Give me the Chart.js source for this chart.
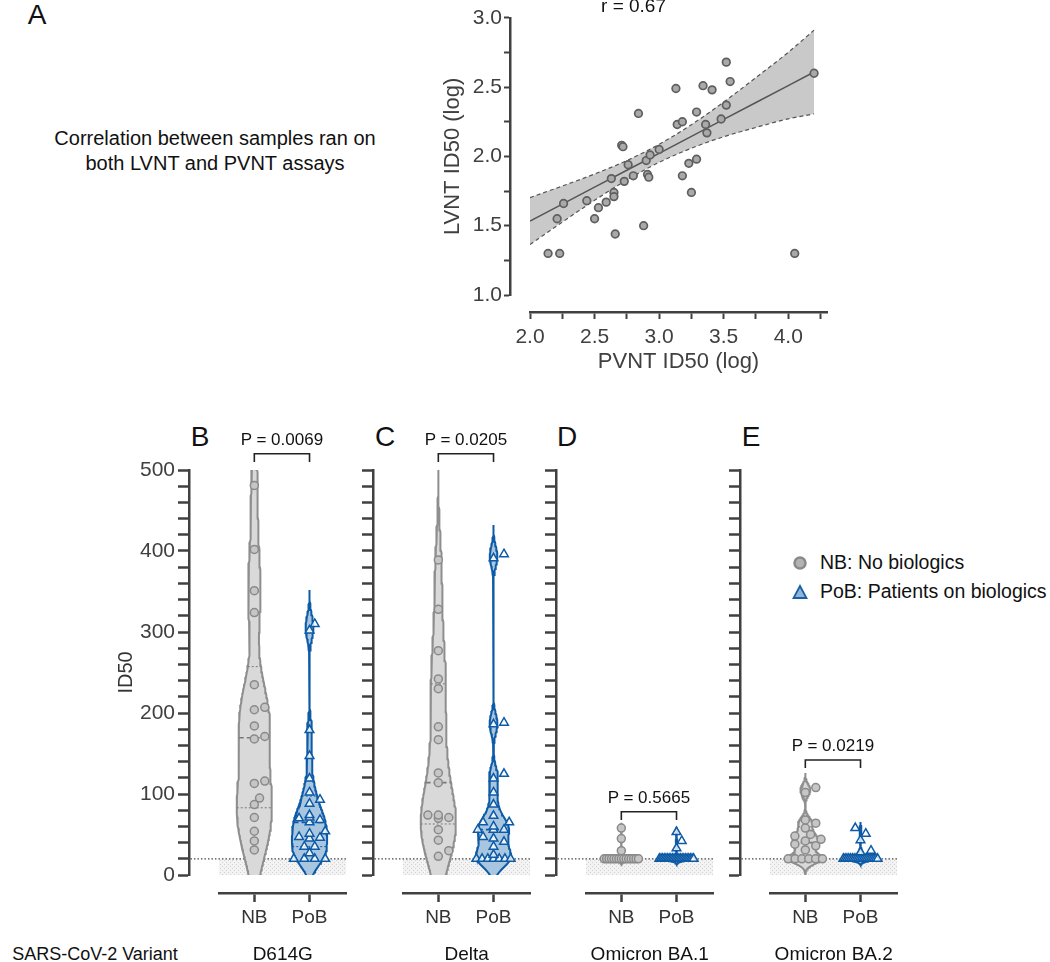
<!DOCTYPE html>
<html>
<head>
<meta charset="utf-8">
<title>LVNT / PVNT neutralization</title>
<script src="https://cdn.jsdelivr.net/npm/chart.js@4.4.1/dist/chart.umd.min.js"></script>
<style>
  html, body { margin: 0; padding: 0; background: #fff; }
  body { position: relative; width: 1050px; height: 962px; overflow: hidden;
         font-family: 'Liberation Sans', Arial, sans-serif; color: #111; }
  canvas { position: absolute; }
  .lbl { position: absolute; white-space: nowrap; line-height: 1; transform: translate(-50%, -50%); }
  .legend { position: absolute; left: 792px; top: 548px; font-size: 19.5px; color: #111; white-space: nowrap; }
  .legend div { display: flex; align-items: center; height: 29px; }
  .legend svg { margin-right: 12px; flex: none; }
</style>
</head>
<body>
<div class="lbl" style="left:37px;top:15px;font-size:28px">A</div>
<div class="lbl" style="left:215px;top:138px;font-size:20px">Correlation between samples ran on</div>
<div class="lbl" style="left:215px;top:163px;font-size:20px">both LVNT and PVNT assays</div>
<div class="lbl" style="left:200px;top:437px;font-size:28px">B</div>
<div class="lbl" style="left:385px;top:437px;font-size:28px">C</div>
<div class="lbl" style="left:567px;top:437px;font-size:28px">D</div>
<div class="lbl" style="left:751px;top:437px;font-size:28px">E</div>
<div class="lbl" style="left:95px;top:954px;font-size:18px">SARS-CoV-2 Variant</div>
<div class="legend">
  <div><svg width="16" height="16"><circle cx="8" cy="8" r="5.5" fill="#b3b3b3" stroke="#8a8a8a" stroke-width="2.5"/></svg>NB: No biologics</div>
  <div><svg width="16" height="16"><polygon points="8,2 14.5,14 1.5,14" fill="#8fb4d9" stroke="#1a5ea5" stroke-width="1.8"/></svg>PoB: Patients on biologics</div>
</div>

<script>
// ---- Panel A: log10 ID50 of samples run on both assays ----
const pvntLog = [2.14, 2.23, 2.21, 2.26, 2.44, 2.50, 2.53, 2.59, 2.63, 2.65, 2.65, 2.66, 2.71, 2.72,
                 2.73, 2.76, 2.80, 2.84, 2.88, 2.90, 2.91, 2.92, 2.93, 3.00, 3.13, 3.14, 3.18, 3.18,
                 3.23, 3.25, 3.29, 3.29, 3.34, 3.36, 3.37, 3.41, 3.48, 3.52, 3.52, 3.55, 4.05, 4.20];
const lvntLog = [1.30, 1.30, 1.55, 1.66, 1.68, 1.55, 1.63, 1.67, 1.84, 1.74, 1.71, 1.44, 2.08, 2.07,
                 1.82, 1.94, 1.86, 2.31, 1.50, 1.97, 1.87, 1.85, 2.01, 2.05, 2.49, 2.23, 2.25, 1.86,
                 1.95, 1.74, 2.32, 1.98, 2.51, 2.23, 2.17, 2.48, 2.27, 2.37, 2.68, 2.54, 1.30, 2.60];
// fitted line and 95% band
const fitX     = [2.0, 2.25, 2.5, 2.75, 3.0, 3.25, 3.5, 3.75, 4.0, 4.2];
const fitY     = [1.534, 1.656, 1.778, 1.900, 2.022, 2.144, 2.267, 2.389, 2.511, 2.609];
const fitUpper = [1.703, 1.786, 1.873, 1.970, 2.087, 2.229, 2.392, 2.569, 2.751, 2.911];
const fitLower = [1.365, 1.526, 1.683, 1.830, 1.957, 2.059, 2.142, 2.209, 2.271, 2.307];
const correlationR = '0.67';

// ---- Panels B-E: ID50 per patient ----
const variants = ['D614G', 'Delta', 'Omicron BA.1', 'Omicron BA.2'];
const groupLabels = ['NB', 'PoB'];
const pValues = ['0.0069', '0.0205', '0.5665', '0.0219'];
const bracketLevel = [520, 520, 78, 142];
const detectionLimit = 20;

const nbD614G  = [481, 402, 351, 324, 235, 207, 204, 184, 171, 168, 116, 113, 95, 87, 71, 54, 42, 31];
const pobD614G = [310, 302, 179, 147, 119, 102, 93, 88, 74, 71, 70, 68, 65, 54, 51, 47, 46, 45,
                  35, 35, 27, 20, 20, 20, 20];
const nbDelta  = [389, 328, 277, 242, 230, 183, 167, 126, 114, 74, 74, 71, 70, 56, 43, 30, 23];
const pobDelta = [396, 391, 188, 186, 125, 119, 102, 87, 73, 65, 65, 60, 56, 56, 56, 47, 45, 41,
                  35, 25, 20, 20, 20, 20, 20, 20, 20];
const nbBA1    = [58, 45, 30, 20, 20, 20, 20, 20, 20, 20, 20, 20, 20, 20, 20, 20, 20, 20];
const pobBA1   = [53, 42, 33, 20, 20, 20, 20, 20, 20, 20, 20, 20, 20, 20, 20, 20, 20, 20, 20, 20,
                  20, 20, 20, 20, 20];
const nbBA2    = [108, 102, 68, 64, 58, 50, 48, 44, 42, 38, 36, 31, 20, 20, 20, 20, 20, 20];
const pobBA2   = [58, 51, 43, 30, 28, 20, 20, 20, 20, 20, 20, 20, 20, 20, 20, 20, 20, 20, 20, 20,
                  20, 20, 20, 20, 20];

const nbSeries  = [nbD614G, nbDelta, nbBA1, nbBA2];
const pobSeries = [pobD614G, pobDelta, pobBA1, pobBA2];
// kernel width for the violins (ID50 units), [NB, PoB]
const kdeBandwidth = [[40, 14], [40, 12], [2.2, 2.2], [6, 2.5]];

// ---- layout ----
Chart.defaults.font.family = "'Liberation Sans', Arial, sans-serif";
Chart.defaults.color = '#404040';

const AXIS_X = [189, 373, 556, 740];   // page x of each panel's y axis
const PANEL_TOP = 440;
const PX_Y = 405 / 500;                // px per ID50 unit
const PX_X = 58;                       // px between NB and PoB
const X_MIN = 0.36, X_MAX = 2.67;
const HALF_W = 18.5 / PX_X;            // widest half-violin
const AXIS_COLOR = '#404040';

const NB_STYLE  = {fill: '#d9d9d9', line: '#8e8e8e', dash: '#7a7a7a', point: 'circle',
                   pFill: '#c6c6c6', pLine: '#8a8a8a', r: 4};
const POB_STYLE = {fill: '#a9c6e0', line: '#0d5aa6', dash: '#0d5aa6', point: 'triangle',
                   pFill: 'rgba(255,255,255,0.8)', pLine: '#0d5aa6', r: 5};

function addCanvas(left, top, w, h) {
  const c = document.createElement('canvas');
  c.width = w; c.height = h;
  c.style.left = left + 'px'; c.style.top = top + 'px';
  document.body.appendChild(c);
  return c;
}

function addLabel(text, x, y, size) {
  const d = document.createElement('div');
  d.className = 'lbl';
  d.textContent = text;
  d.style.left = x + 'px'; d.style.top = y + 'px'; d.style.fontSize = size + 'px';
  document.body.appendChild(d);
}

// invisible axis used only to leave a gap between the axis lines and the plot
function spacer(position, size) {
  return {
    type: 'linear', position, weight: 0, display: true,
    ticks: {display: false}, grid: {display: false}, border: {display: false},
    afterFit: s => { if (position === 'left') s.width = size; else s.height = size; }
  };
}

function quantile(sorted, p) {
  const pos = Math.min(Math.max(p * (sorted.length + 1), 1), sorted.length) - 1;
  const lo = Math.floor(pos), f = pos - lo;
  return lo + 1 < sorted.length ? sorted[lo] + f * (sorted[lo + 1] - sorted[lo]) : sorted[lo];
}

// spread the points sideways so they don't sit on top of each other
function swarm(values, center) {
  const D = 8, STEP = 5.5, MAX_OFF = 17;
  const sorted = values.slice().sort((a, b) => a - b);
  const cand = [0];
  for (let k = STEP; k <= MAX_OFF + 0.01; k += STEP) cand.push(k, -k);
  const placed = [];
  sorted.forEach(v => {
    const py = v * PX_Y;
    const ties = sorted.filter(u => Math.abs(u - v) < 0.5).length;
    let off;
    if (ties >= 4) {
      const idx = placed.filter(p => Math.abs(p.v - v) < 0.5).length;
      const span = Math.min((ties - 1) * 11, 2 * MAX_OFF + 2);
      off = -span / 2 + span * idx / (ties - 1);
    } else {
      off = cand.find(c => placed.every(p => Math.hypot(p.px - c, p.py - py) >= D));
      if (off === undefined) off = 0;
    }
    placed.push({v, px: off, py});
  });
  return placed.map(p => ({x: center + p.px / PX_X, y: p.v}));
}

function violin(values, center, bw, st) {
  const sorted = values.slice().sort((a, b) => a - b);
  const lo = sorted[0] - 3 * bw;
  const hi = sorted[sorted.length - 1] + 3 * bw;
  const density = y => values.reduce((s, v) => s + Math.exp(-0.5 * ((y - v) / bw) ** 2), 0);
  const steps = 240;
  const ys = [];
  for (let k = 0; k <= steps; k++) ys.push(lo + (hi - lo) * k / steps);
  const dens = ys.map(density);
  const peak = Math.max(...dens);
  const halfAt = y => HALF_W * density(y) / peak;

  const outline = ys.map((y, k) => ({x: center + HALF_W * dens[k] / peak, y}));
  for (let k = steps; k >= 0; k--) outline.push({x: center - HALF_W * dens[k] / peak, y: ys[k]});
  outline.push({x: outline[0].x, y: outline[0].y});

  const quartiles = [0.25, 0.5, 0.75].map(p => quantile(sorted, p));
  const lines = quartiles.map((y, k) => ({
    data: [{x: center - halfAt(y), y}, {x: center + halfAt(y), y}],
    showLine: true, pointRadius: 0, borderColor: st.dash,
    borderWidth: k === 1 ? 1.6 : 1, borderDash: k === 1 ? [5, 3] : [2, 2], order: 3
  }));

  return [
    {data: outline, showLine: true, fill: 'shape', backgroundColor: st.fill, borderColor: st.line,
     borderWidth: 2, pointRadius: 0, order: 4},
    ...lines,
    {data: swarm(values, center), pointStyle: st.point, pointRadius: st.r,
     backgroundColor: st.pFill, borderColor: st.pLine, borderWidth: 1.5, order: 2}
  ];
}

function belowLimitPattern() {
  const c = document.createElement('canvas');
  c.width = 4; c.height = 4;
  const g = c.getContext('2d');
  g.fillStyle = '#f3f3f3'; g.fillRect(0, 0, 4, 4);
  g.fillStyle = '#d2d2d2'; g.fillRect(0, 0, 1, 1); g.fillRect(2, 2, 1, 1);
  return g.createPattern(c, 'repeat');
}

// ---- Panel A ----
function drawCorrelation() {
  const canvas = addCanvas(440, -5, 450, 380);
  const points = pvntLog.map((x, k) => ({x, y: lvntLog[k]}));
  const line = arr => fitX.map((x, k) => ({x, y: arr[k]}));
  const halfTick = v => Math.abs(v * 2 - Math.round(v * 2)) < 1e-6 ? v.toFixed(1) : '';

  new Chart(canvas, {
    type: 'scatter',
    data: {
      datasets: [
        {data: points, pointRadius: 3.8, backgroundColor: '#a9a9a9', borderColor: '#5f5f5f',
         borderWidth: 1.7, order: 0},
        {type: 'line', data: line(fitY), borderColor: '#555', borderWidth: 1.5, pointRadius: 0, order: 1},
        {type: 'line', data: line(fitUpper), borderColor: '#555', borderWidth: 1.2, borderDash: [4, 3],
         pointRadius: 0, tension: 0.4, cubicInterpolationMode: 'monotone',
         fill: '+1', backgroundColor: '#c9c9c9', order: 3},
        {type: 'line', data: line(fitLower), borderColor: '#555', borderWidth: 1.2, borderDash: [4, 3],
         pointRadius: 0, tension: 0.4, cubicInterpolationMode: 'monotone', order: 2}
      ]
    },
    options: {
      responsive: false, devicePixelRatio: 1, animation: false, events: [],
      layout: {padding: {top: 0, right: 63, bottom: 0, left: 0}},
      plugins: {
        legend: {display: false}, tooltip: {enabled: false},
        title: {display: true, text: 'r = ' + correlationR, color: '#111',
                font: {size: 19, weight: 'normal'}, padding: 0}
      },
      scales: {
        x: {
          type: 'linear', position: 'bottom', weight: 1, min: 2.0, max: 4.3,
          ticks: {stepSize: 0.25, includeBounds: false, autoSkip: false, callback: halfTick,
                  font: {size: 21}, color: '#404040', padding: 6, maxRotation: 0},
          grid: {drawOnChartArea: false, tickLength: 7, tickWidth: 2, tickColor: AXIS_COLOR},
          border: {color: AXIS_COLOR, width: 2.5},
          title: {display: true, text: 'PVNT ID50 (log)', font: {size: 22}, color: '#404040', padding: 0},
          afterFit: s => { s.height = 63; }
        },
        y: {
          type: 'linear', position: 'left', weight: 1, min: 1.0, max: 3.0,
          ticks: {stepSize: 0.25, includeBounds: false, autoSkip: false, callback: halfTick,
                  font: {size: 21}, color: '#404040', padding: 2},
          grid: {drawOnChartArea: false, tickLength: 6, tickWidth: 2, tickColor: AXIS_COLOR},
          border: {color: AXIS_COLOR, width: 2.5},
          title: {display: true, text: 'LVNT ID50 (log)', font: {size: 22}, color: '#404040', padding: 0},
          afterFit: s => { s.width = 70; }
        },
        xGap: spacer('bottom', 17),
        yGap: spacer('left', 20)
      }
    }
  });
}

// ---- Panels B-E ----
function drawPanel(i) {
  const axisW = i === 0 ? 81 : 14;
  const left = AXIS_X[i] - axisW;
  const canvas = addCanvas(left, PANEL_TOP, axisW + 164, 526);
  const [bwNb, bwPob] = kdeBandwidth[i];
  const b = bracketLevel[i];

  const datasets = [
    {data: [{x: X_MIN - 30 / PX_X, y: detectionLimit}, {x: X_MAX, y: detectionLimit}],
     showLine: true, pointRadius: 0, fill: 'origin', backgroundColor: belowLimitPattern(),
     borderColor: '#444', borderWidth: 1.2, borderDash: [1.5, 2],
     clip: {left: 31, top: 0, right: 0, bottom: 0}, order: 6},
    ...violin(nbSeries[i], 1, bwNb, NB_STYLE),
    ...violin(pobSeries[i], 2, bwPob, POB_STYLE),
    {data: [{x: 1, y: b - 10}, {x: 1, y: b}, {x: 2, y: b}, {x: 2, y: b - 10}],
     showLine: true, pointRadius: 0, borderColor: '#222', borderWidth: 1.6, clip: false, order: 1}
  ];

  const chart = new Chart(canvas, {
    type: 'scatter',
    data: {datasets},
    options: {
      responsive: false, devicePixelRatio: 1, animation: false, events: [],
      layout: {padding: {top: 30, right: 0, bottom: 0, left: 0}},
      plugins: {legend: {display: false}, tooltip: {enabled: false}},
      scales: {
        x: {
          type: 'linear', position: 'bottom', weight: 1, min: X_MIN, max: X_MAX,
          afterBuildTicks: s => { s.ticks = groupLabels.map((g, k) => ({value: k + 1})); },
          ticks: {autoSkip: false, callback: v => groupLabels[v - 1], font: {size: 19},
                  color: '#333', padding: 4, maxRotation: 0},
          grid: {drawOnChartArea: false, tickLength: 9, tickWidth: 2.5, tickColor: AXIS_COLOR},
          border: {color: AXIS_COLOR, width: 2.5},
          title: {display: true, text: variants[i], font: {size: 19}, color: '#111', padding: 0},
          afterFit: s => { s.height = 73; }
        },
        y: {
          type: 'linear', position: 'left', weight: 1, min: 0, max: 500,
          ticks: {stepSize: 20, autoSkip: false,
                  callback: v => (i === 0 && v % 100 === 0) ? v : '',
                  font: {size: 21}, color: '#404040', padding: 3},
          grid: {drawOnChartArea: false, tickLength: 11, tickWidth: 2.5, tickColor: AXIS_COLOR},
          border: {color: AXIS_COLOR, width: 2.5},
          title: {display: i === 0, text: 'ID50', font: {size: 20}, color: '#333',
                  padding: {top: 6, bottom: 0}},
          afterFit: s => { s.width = axisW; }
        },
        xGap: spacer('bottom', 18),
        yGap: spacer('left', 30)
      }
    }
  });

  const px = (chart.scales.x.getPixelForValue(1) + chart.scales.x.getPixelForValue(2)) / 2 + left;
  const py = chart.scales.y.getPixelForValue(b) + PANEL_TOP - 15;
  addLabel('P = ' + pValues[i], px, py, 17);
}

drawCorrelation();
variants.forEach((v, i) => drawPanel(i));
</script>
</body>
</html>
